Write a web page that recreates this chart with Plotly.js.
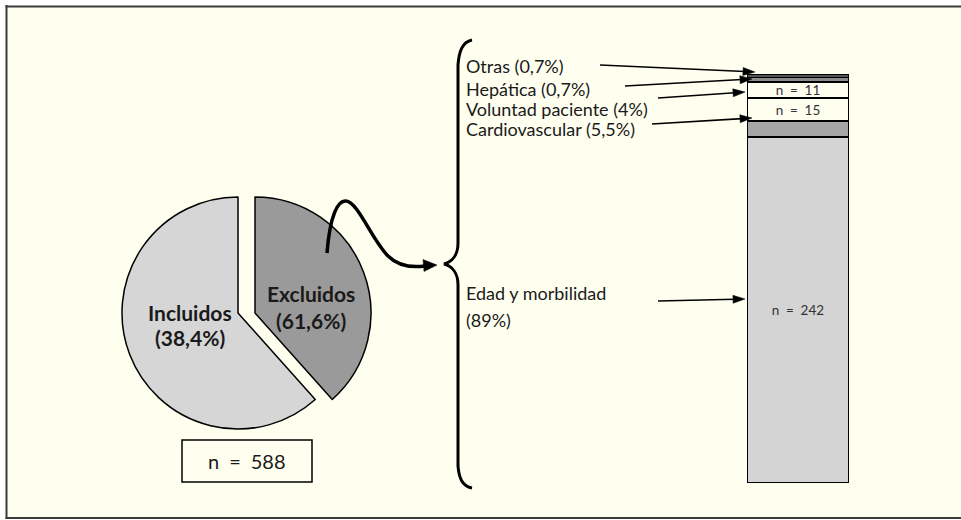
<!DOCTYPE html>
<html>
<head>
<meta charset="utf-8">
<script src="https://cdn.plot.ly/plotly-3.0.1.min.js"></script>
<style>html,body{margin:0;padding:0;background:#fff;overflow:hidden;}#chart{width:961px;height:520px;}</style>
</head>
<body>
<div id="chart"></div>
<script>
// ---- data ----
const pieLabels = ["Excluidos", "Incluidos"];
const pieShares = [38.4, 61.6];            // slice sizes as drawn in the picture
const pieTextLine1 = ["Excluidos", "Incluidos"];
const pieTextLine2 = ["(61,6%)", "(38,4%)"];
const pieTotal = "n\u2002=\u2002588";

// stacked bar segments, bottom to top (share of bar height as drawn)
const segNames = ["Edad y morbilidad", "Otro", "Cardiovascular", "Voluntad paciente", "Hepática", "Otras"];
const segHeights = [84.6, 3.9, 5.6, 4.0, 1.0, 0.9];
const segText = ["n\u2002=\u2002242", "", "n\u2002=\u200215", "n\u2002=\u200211", "", ""];

const causeLabels = ["Otras (0,7%)", "Hepática (0,7%)", "Voluntad paciente (4%)", "Cardiovascular (5,5%)", "Edad y morbilidad", "(89%)"];

// ---- styling / layout constants ----
const W = 961, H = 520;
const FONT = "Lato, 'Open Sans', sans-serif";
const CREAM = "#fffff0";
const pieCx = 238, pieCy = 313, pieR = 116, pieShift = 17;
const pieColors = ["#9a9a9a", "#d6d6d6"];
const segColors = ["#d4d4d4", "#a6a6a6", CREAM, CREAM, "#8a8a8a", "#555555"];
const bar = {x0: 747, x1: 849, top: 74, bottom: 483};

function dom(cx) {
  return {x: [(cx - pieR) / W, (cx + pieR) / W], y: [(H - pieCy - pieR) / H, (H - pieCy + pieR) / H]};
}
const T = "rgba(0,0,0,0)";
const traces = [
  {type: "scatter", x: [], y: [], xaxis: "x", yaxis: "y", showlegend: false, hoverinfo: "skip"},
  {type: "pie", labels: pieLabels, values: pieShares, sort: false, direction: "clockwise", rotation: 0,
   domain: dom(pieCx), textinfo: "none", hoverinfo: "label", showlegend: false,
   marker: {colors: [T, pieColors[1]], line: {color: [T, "#000"], width: 1.5}}},
  {type: "pie", labels: pieLabels, values: pieShares, sort: false, direction: "clockwise", rotation: 0,
   domain: dom(pieCx + pieShift), textinfo: "none", hoverinfo: "label", showlegend: false,
   marker: {colors: [pieColors[0], T], line: {color: ["#000", T], width: 1.5}}}
];
segNames.forEach((n, i) => {
  traces.push({type: "bar", name: n, x: [0], y: [segHeights[i]], xaxis: "x2", yaxis: "y2",
    width: 1, marker: {color: segColors[i], line: {color: "#000", width: 1.5}},
    text: [segText[i]], textposition: "inside", insidetextanchor: "middle", textangle: 0,
    constraintext: "none", textfont: {family: FONT, size: 13.5, color: "#333"},
    showlegend: false, hoverinfo: "name"});
});

const FR = "#3a3a3a";
const shapes = [
  {type: "rect", xref: "x", yref: "y", x0: -5, x1: 5.5, y0: -5, y1: 525, fillcolor: "#fff", line: {width: 0}, layer: "below"},
  {type: "rect", xref: "x", yref: "y", x0: -5, x1: 970, y0: -5, y1: 5.5, fillcolor: "#fff", line: {width: 0}, layer: "below"},
  {type: "rect", xref: "x", yref: "y", x0: -5, x1: 970, y0: 518.5, y1: 525, fillcolor: "#fff", line: {width: 0}, layer: "below"},
  {type: "line", xref: "x", yref: "y", x0: 6.5, x1: 6.5, y0: 5, y1: 519, line: {color: FR, width: 2}, layer: "below"},
  {type: "line", xref: "x", yref: "y", x0: 5.5, x1: 970, y0: 6.5, y1: 6.5, line: {color: FR, width: 2}, layer: "below"},
  {type: "line", xref: "x", yref: "y", x0: 5.5, x1: 970, y0: 518, y1: 518, line: {color: FR, width: 2}, layer: "below"}
];
function arrow(x0, y0, x1, y1, len, half, w) {
  const dx = x1 - x0, dy = y1 - y0, L = Math.hypot(dx, dy), ux = dx / L, uy = dy / L;
  const bx = x1 - ux * len, by = y1 - uy * len, px = -uy, py = ux;
  shapes.push({type: "line", xref: "x", yref: "y", x0: x0, y0: y0, x1: bx + ux * 2, y1: by + uy * 2, line: {color: "#000", width: w}});
  shapes.push({type: "path", xref: "x", yref: "y",
    path: `M${x1},${y1} L${bx + px * half},${by + py * half} L${bx - px * half},${by - py * half} Z`,
    fillcolor: "#000", line: {color: "#000", width: 0.5}});
}
arrow(600, 65, 755, 72, 12, 4, 1.6);
arrow(625, 86, 752, 79, 12, 4, 1.6);
arrow(658, 98, 745, 92, 12, 4, 1.6);
arrow(652, 124, 752, 118, 12, 4, 1.6);
arrow(658, 301, 745, 299, 12, 4, 1.6);
// brace
shapes.push({type: "path", xref: "x", yref: "y",
  path: "M472,40 C462,42 459,52 458,65 L458,243 C458,255 452,262 444,264 C452,266 458,273 458,285 L458,466 C459,478 462,486 472,488",
  line: {color: "#000", width: 3}});
// curvy arrow
shapes.push({type: "path", xref: "x", yref: "y",
  path: "M327,253 C330,215 338,200 346,201 C358,202 372,240 388,256 C398,266 410,268 425,266",
  line: {color: "#000", width: 3.5}});
shapes.push({type: "path", xref: "x", yref: "y", path: "M437,265 L423,259.5 L424,271.5 Z",
  fillcolor: "#000", line: {color: "#000", width: 0.5}});
// n box
shapes.push({type: "rect", xref: "x", yref: "y", x0: 182, x1: 312, y0: 440, y1: 482,
  fillcolor: CREAM, line: {color: "#000", width: 1.5}});

const ann = [];
function txt(t, x, y, opts) {
  ann.push(Object.assign({text: t, x: x, y: y, xref: "x", yref: "y", showarrow: false,
    xanchor: "left", yanchor: "middle", borderpad: 0, font: {family: FONT, size: 18, color: "#1a1a1a"}}, opts || {}));
}
const labY = [66, 89, 109, 129, 293, 320];
causeLabels.forEach((t, i) => txt(t, 465, labY[i]));
const bold = {family: FONT, size: 21, color: "#1a1a1a", weight: 700};
txt("<b>" + pieTextLine1[1] + "</b>", 190, 312, {xanchor: "center", font: bold});
txt("<b>" + pieTextLine2[1] + "</b>", 190, 337, {xanchor: "center", font: bold});
txt("<b>" + pieTextLine1[0] + "</b>", 311, 293, {xanchor: "center", font: bold});
txt("<b>" + pieTextLine2[0] + "</b>", 311, 320, {xanchor: "center", font: bold});
txt(pieTotal, 247, 461, {xanchor: "center", font: {family: FONT, size: 20, color: "#1a1a1a"}});

const layout = {
  width: W, height: H, margin: {l: 0, r: 0, t: 0, b: 0, pad: 0},
  paper_bgcolor: CREAM, plot_bgcolor: "rgba(0,0,0,0)",
  barmode: "stack", showlegend: false,
  xaxis: {range: [0, W], domain: [0, 1], visible: false, fixedrange: true},
  yaxis: {range: [H, 0], domain: [0, 1], visible: false, fixedrange: true},
  xaxis2: {range: [-0.5, 0.5], domain: [bar.x0 / W, bar.x1 / W], visible: false, anchor: "y2", fixedrange: true},
  yaxis2: {range: [0, 100], domain: [(H - bar.bottom) / H, (H - bar.top) / H], visible: false, anchor: "x2", fixedrange: true},
  shapes: shapes, annotations: ann
};
Plotly.newPlot("chart", traces, layout, {displayModeBar: false, staticPlot: true});
</script>
</body>
</html>
